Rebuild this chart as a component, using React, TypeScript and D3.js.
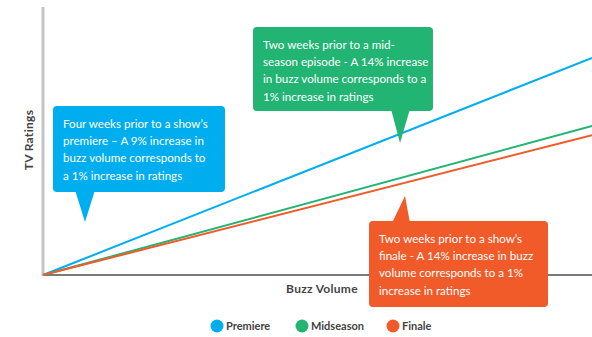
import React from "react";
import * as d3 from "d3";

const W = 592;
const H = 337;

const seriesNames = ["Premiere", "Midseason", "Finale"];
const seriesColors = ["#00AEEF", "#22B473", "#F15A29"];
const buzzVolume = [0, 100];
const premiereRatings = [0, 81];
const midseasonRatings = [0, 55.6];
const finaleRatings = [0, 52.2];

const premiereNote = [
  "Four weeks prior to a show\u2019s",
  "premiere \u2013 A 9% increase in",
  "buzz volume corresponds to",
  "a 1% increase in ratings",
];
const midseasonNote = [
  "Two weeks prior to a mid-",
  "season episode - A 14% increase",
  "in buzz volume corresponds to a",
  "1% increase in ratings",
];
const finaleNote = [
  "Two weeks prior to a show\u2019s",
  "finale - A 14% increase in buzz",
  "volume corresponds to a 1%",
  "increase in ratings",
];

const FONT = "Lato, 'Open Sans', sans-serif";

type Callout = {
  lines: string[];
  color: string;
  x: number;
  y: number;
  w: number;
  h: number;
  tail: [number, number][];
};

function CalloutBox({ c }: { c: Callout }) {
  const path = d3.line()(c.tail) + "Z";
  return (
    <g>
      <rect x={c.x} y={c.y} width={c.w} height={c.h} rx={4} fill={c.color} />
      <path d={path} fill={c.color} />
      {c.lines.map((t, i) => (
        <text
          key={i}
          x={c.x + 10}
          y={c.y + 22 + i * 17.2}
          fill="#fff"
          fontSize={11.6}
          fontFamily={FONT}
        >
          {t}
        </text>
      ))}
    </g>
  );
}

export default function App() {
  const x = d3.scaleLinear().domain([0, 100]).range([43, 592]);
  const y = d3.scaleLinear().domain([0, 100]).range([275, 7]);
  const series = [premiereRatings, midseasonRatings, finaleRatings];
  const line = d3
    .line<[number, number]>()
    .x((d) => x(d[0]))
    .y((d) => y(d[1]));

  const callouts: Callout[] = [
    {
      lines: premiereNote,
      color: seriesColors[0],
      x: 53,
      y: 106,
      w: 172,
      h: 86,
      tail: [
        [75, 190],
        [95, 190],
        [85, 222],
      ],
    },
    {
      lines: midseasonNote,
      color: seriesColors[1],
      x: 253,
      y: 27,
      w: 180,
      h: 84,
      tail: [
        [391, 109],
        [410, 109],
        [400, 143],
      ],
    },
    {
      lines: finaleNote,
      color: seriesColors[2],
      x: 369,
      y: 221,
      w: 179,
      h: 86,
      tail: [
        [392, 223],
        [410, 223],
        [405, 196],
      ],
    },
  ];

  const legendX = [217, 302, 393];

  return (
    <svg
      width={W}
      height={H}
      style={{ position: "absolute", left: 0, top: 0, background: "#fff" }}
    >
      <line x1={x(0)} x2={x(0)} y1={7} y2={276} stroke="#c4c4c4" strokeWidth={3} />
      <line x1={x(0)} x2={W} y1={y(0)} y2={y(0)} stroke="#7a7a7a" strokeWidth={2} />
      <text
        transform={`translate(33,140) rotate(-90)`}
        textAnchor="middle"
        fontSize={12}
        fontWeight="bold"
        fill="#444"
        fontFamily={FONT}
        letterSpacing={0.3}
      >
        TV Ratings
      </text>
      <text
        x={322}
        y={293}
        textAnchor="middle"
        fontSize={12}
        fontWeight="bold"
        fill="#444"
        fontFamily={FONT}
        letterSpacing={0.3}
      >
        Buzz Volume
      </text>
      {series.map((s, i) => (
        <path
          key={i}
          d={line(buzzVolume.map((b, j) => [b, s[j]]) as [number, number][]) || ""}
          fill="none"
          stroke={seriesColors[i]}
          strokeWidth={2}
        />
      ))}
      {callouts.map((c, i) => (
        <CalloutBox key={i} c={c} />
      ))}
      {seriesNames.map((n, i) => (
        <g key={n}>
          <circle cx={legendX[i]} cy={326} r={6.5} fill={seriesColors[i]} />
          <text
            x={legendX[i] + 9}
            y={330}
            fontSize={11}
            fontWeight="bold"
            fill="#444"
            fontFamily={FONT}
          >
            {n}
          </text>
        </g>
      ))}
    </svg>
  );
}
